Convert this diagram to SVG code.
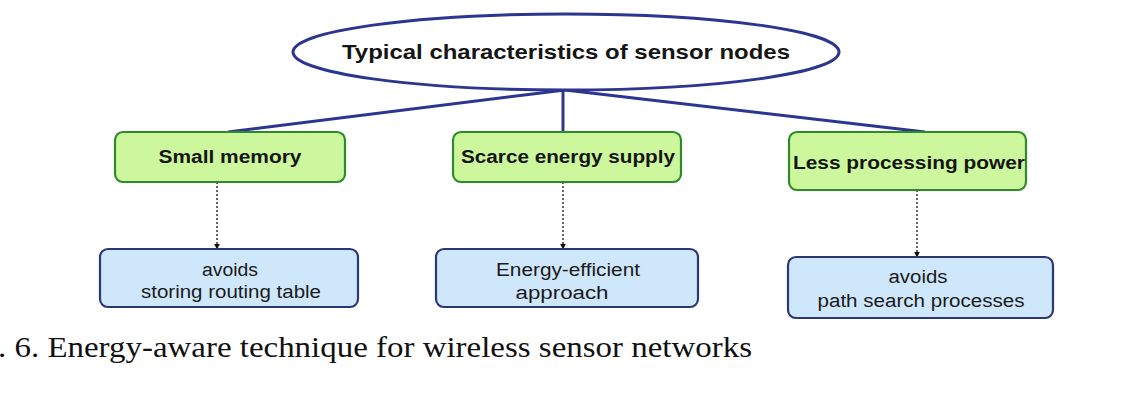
<svg xmlns="http://www.w3.org/2000/svg" width="1140" height="395" viewBox="0 0 1140 395">
<style>
.g rect{fill:#ccf79c;stroke:#2f8a2a;stroke-width:2.2}
.b rect{fill:#cfe7fb;stroke:#2c3778;stroke-width:2.2}
.gt{font-family:"Liberation Sans",Arial,sans-serif;font-weight:bold;font-size:18px;fill:#151515;text-anchor:middle}
.bt{font-family:"Liberation Sans",Arial,sans-serif;font-size:18px;fill:#1a1a1a;text-anchor:middle}
.solid{stroke:#2c3590;stroke-width:3;fill:none}
.dot{stroke:#333;stroke-width:1.5;stroke-dasharray:2 2;fill:none;marker-end:url(#ah)}
</style>
<defs>
<marker id="ah" viewBox="0 0 10 10" refX="9" refY="5" markerWidth="6" markerHeight="6" orient="auto" markerUnits="userSpaceOnUse">
<path d="M0,0 L10,5 L0,10 z" fill="#111"/>
</marker>
</defs>
<rect width="1140" height="395" fill="#fff"/>
<g id="connectors">
<path class="solid" d="M565,90 L228,132"/>
<path class="solid" d="M563,90 L563,132"/>
<path class="solid" d="M565,90 L925,132"/>
<path class="dot" d="M217,182 L217,249"/>
<path class="dot" d="M563,182 L563,249"/>
<path class="dot" d="M917,190 L917,257"/>
</g>
<g id="root">
<ellipse cx="566" cy="52" rx="273" ry="38" fill="#fff" stroke="#2c3590" stroke-width="3"/>
<text x="566" y="59" font-family="Liberation Sans,Arial,sans-serif" font-weight="bold" font-size="21" fill="#151515" text-anchor="middle" textLength="448" lengthAdjust="spacingAndGlyphs">Typical characteristics of sensor nodes</text>
</g>
<g id="small-memory" class="g">
<rect x="115" y="132" width="230" height="50" rx="8"/>
<text class="gt" x="230" y="163" textLength="143" lengthAdjust="spacingAndGlyphs">Small memory</text>
</g>
<g id="scarce-energy" class="g">
<rect x="453" y="132" width="228" height="50" rx="8"/>
<text class="gt" x="568" y="163" textLength="214" lengthAdjust="spacingAndGlyphs">Scarce energy supply</text>
</g>
<g id="less-processing" class="g">
<rect x="789" y="132" width="237" height="58" rx="8"/>
<text class="gt" x="909" y="169" textLength="232" lengthAdjust="spacingAndGlyphs">Less processing power</text>
</g>
<g id="avoids-routing" class="b">
<rect x="100" y="249" width="258" height="58" rx="8"/>
<text class="bt" x="230" y="276" textLength="56" lengthAdjust="spacingAndGlyphs">avoids</text>
<text class="bt" x="231" y="298" textLength="180" lengthAdjust="spacingAndGlyphs">storing routing table</text>
</g>
<g id="energy-efficient" class="b">
<rect x="436" y="249" width="262" height="58" rx="8"/>
<text class="bt" x="568" y="276" textLength="144" lengthAdjust="spacingAndGlyphs">Energy-efficient</text>
<text class="bt" x="562" y="299" textLength="93" lengthAdjust="spacingAndGlyphs">approach</text>
</g>
<g id="avoids-path" class="b">
<rect x="788" y="257" width="265" height="61" rx="8"/>
<text class="bt" x="918" y="283" textLength="59" lengthAdjust="spacingAndGlyphs">avoids</text>
<text class="bt" x="921" y="307" textLength="207" lengthAdjust="spacingAndGlyphs">path search processes</text>
</g>
<text x="-2" y="357" font-family="Liberation Serif,Times New Roman,serif" font-size="30" fill="#111" textLength="754" lengthAdjust="spacingAndGlyphs">. 6. Energy-aware technique for wireless sensor networks</text>
</svg>
